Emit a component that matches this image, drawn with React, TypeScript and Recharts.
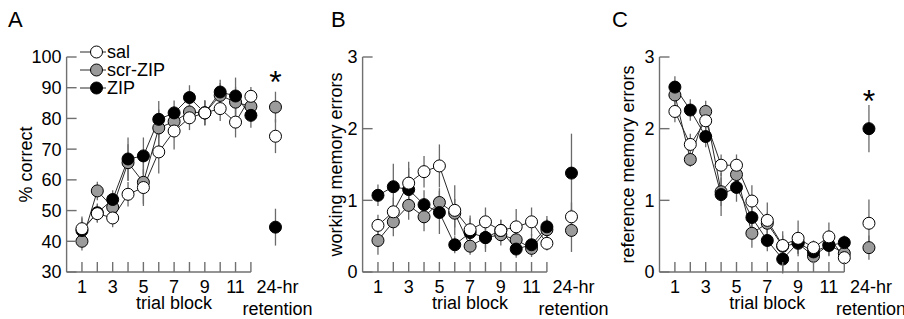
import { ComposedChart, Line, XAxis, YAxis, ErrorBar, ReferenceLine, ReferenceDot, Legend } from 'recharts'

const FONT = '"Liberation Sans", Arial, Helvetica, sans-serif'
const AXIS = '#707070'
const WHISKER = '#6a6a6a'
const LINK = '#2a2a2a'

const blocks = [1, 2, 3, 4, 5, 6, 7, 8, 9, 10, 11, 12]
const retentionX = 13.6
const xTicks = [...blocks, retentionX]
const labelledBlocks = [1, 3, 5, 7, 9, 11]

const groups = [
  { key: 'sal', name: 'sal', fill: '#ffffff' },
  { key: 'scr', name: 'scr-ZIP', fill: '#9b9b9b' },
  { key: 'zip', name: 'ZIP', fill: '#000000' },
]
// gray first, white on top
const drawOrder = ['scr', 'zip', 'sal']

// A: % correct (blocks 1-12, then 24-hr retention)
const correctSal = [44.1, 49.0, 47.6, 55.3, 57.5, 69.1, 75.9, 80.2, 81.8, 83.2, 78.8, 87.2, 74.2]
const correctSalErr = [4, 3, 3, 4, 6, 7, 6, 4, 4, 4, 5, 3, 5.5]
const correctScr = [40.0, 56.4, 51.1, 65.6, 59.2, 76.9, 79.0, 82.1, 81.8, 87.5, 85.3, 83.9, 83.7]
const correctScrErr = [3, 3, 3, 6, 7, 6, 5, 4, 4, 4, 5, 3, 5]
const correctZip = [43.5, 49.3, 53.6, 66.8, 67.8, 79.7, 81.8, 86.8, 81.8, 88.6, 87.3, 81.0, 44.6]
const correctZipErr = [4, 3, 3, 7, 6, 6, 4, 4, 4, 4, 6, 4, 6]

// B: working memory errors
const wmSal = [0.65, 0.84, 1.24, 1.4, 1.48, 0.86, 0.59, 0.7, 0.58, 0.63, 0.7, 0.4, 0.77]
const wmSalErr = [0.15, 0.2, 0.3, 0.22, 0.3, 0.35, 0.2, 0.2, 0.15, 0.25, 0.2, 0.1, 0.2]
const wmScr = [0.44, 0.7, 0.93, 0.77, 0.97, 0.82, 0.36, 0.48, 0.52, 0.45, 0.33, 0.59, 0.58]
const wmScrErr = [0.2, 0.2, 0.2, 0.2, 0.2, 0.2, 0.12, 0.15, 0.15, 0.15, 0.12, 0.15, 0.3]
const wmZip = [1.07, 1.19, 1.15, 0.94, 0.83, 0.38, 0.55, 0.48, 0.58, 0.32, 0.38, 0.63, 1.38]
const wmZipErr = [0.15, 0.32, 0.3, 0.2, 0.3, 0.12, 0.2, 0.2, 0.15, 0.12, 0.15, 0.15, 0.55]

// C: reference memory errors
const rmSal = [2.24, 1.78, 2.11, 1.49, 1.49, 0.99, 0.72, 0.37, 0.47, 0.34, 0.49, 0.2, 0.68]
const rmSalErr = [0.15, 0.15, 0.2, 0.15, 0.15, 0.22, 0.25, 0.2, 0.25, 0.1, 0.2, 0.1, 0.33]
const rmScr = [2.47, 1.57, 2.24, 1.12, 1.36, 0.54, 0.68, 0.36, 0.4, 0.22, 0.38, 0.26, 0.34]
const rmScrErr = [0.15, 0.1, 0.15, 0.2, 0.2, 0.2, 0.15, 0.15, 0.15, 0.1, 0.15, 0.1, 0.17]
const rmZip = [2.58, 2.26, 1.89, 1.08, 1.18, 0.76, 0.44, 0.18, 0.41, 0.28, 0.37, 0.41, 2.0]
const rmZipErr = [0.15, 0.15, 0.15, 0.3, 0.2, 0.2, 0.15, 0.2, 0.15, 0.1, 0.15, 0.1, 0.33]

type Row = Record<string, number>

function buildRows(
  sal: number[], salErr: number[],
  scr: number[], scrErr: number[],
  zip: number[], zipErr: number[],
): Row[] {
  const cols: [string, number[], number[]][] = [
    ['sal', sal, salErr],
    ['scr', scr, scrErr],
    ['zip', zip, zipErr],
  ]
  const rows: Row[] = blocks.map((b, i) => {
    const row: Row = { x: b }
    cols.forEach(([k, v, e]) => {
      row[k] = v[i]
      row[k + 'Err'] = e[i]
    })
    return row
  })
  const last: Row = { x: retentionX }
  cols.forEach(([k, v, e]) => {
    last[k + 'Ret'] = v[12]
    last[k + 'RetErr'] = e[12]
  })
  rows.push(last)
  return rows
}

const XTick = (props: any) => {
  const { x, y, payload } = props
  const v = payload.value
  const isRet = v === retentionX
  return (
    <g>
      {!isRet && <line x1={x} x2={x} y1={y} y2={y - 10} stroke={AXIS} strokeWidth={1.4} />}
      {(isRet || labelledBlocks.includes(v)) && (
        <text x={isRet ? x + 2 : x} y={y + 21} textAnchor="middle" fontSize={18} fill="#000" fontFamily={FONT}>
          {isRet ? '24-hr' : v}
        </text>
      )}
      {isRet && (
        <text x={x + 2} y={y + 43} textAnchor="middle" fontSize={18} fill="#000" fontFamily={FONT}>
          retention
        </text>
      )}
    </g>
  )
}

const YTick = (props: any) => {
  const { x, y, payload } = props
  return (
    <g>
      <line x1={x} x2={x + 10} y1={y} y2={y} stroke={AXIS} strokeWidth={1.4} />
      <text x={x - 5} y={y} dy="0.36em" textAnchor="end" fontSize={18} fill="#000" fontFamily={FONT}>
        {payload.value}
      </text>
    </g>
  )
}

const yTitle = (text: string, gap: number) => (props: any) => {
  const vb = props.viewBox
  const cx = vb.x + vb.width - gap
  const cy = vb.y + vb.height / 2
  return (
    <text
      x={cx}
      y={cy}
      dy="0.36em"
      transform={`rotate(-90 ${cx} ${cy})`}
      textAnchor="middle"
      fontSize={18}
      fill="#000"
      fontFamily={FONT}
    >
      {text}
    </text>
  )
}

const xTitle = (props: any) => {
  const vb = props.viewBox
  return (
    <text x={vb.x + (7 / 14.5) * vb.width} y={vb.y + 37} textAnchor="middle" fontSize={18} fill="#000" fontFamily={FONT}>
      trial block
    </text>
  )
}

const star = (props: any) => {
  const vb = props.viewBox
  return (
    <text x={vb.x + vb.width / 2} y={vb.y + vb.height / 2 + 19} textAnchor="middle" fontSize={32} fill="#000" fontFamily={FONT}>
      *
    </text>
  )
}

function LegendBox() {
  return (
    <svg width={100} height={56} style={{ display: 'block', overflow: 'visible' }}>
      {groups.map((g, i) => (
        <g key={g.key}>
          <line x1={2} x2={28} y1={9 + i * 18} y2={9 + i * 18} stroke={LINK} strokeWidth={1} />
          <circle cx={18.5} cy={9 + i * 18} r={6} fill={g.fill} stroke="#000" strokeWidth={1} />
          <text x={29} y={9 + i * 18} dy="0.36em" fontSize={18} fill="#000" fontFamily={FONT}>
            {g.name}
          </text>
        </g>
      ))}
    </svg>
  )
}

interface PanelProps {
  left: number
  width: number
  letter: string
  letterX: number
  rows: Row[]
  yDomain: [number, number]
  yTicks: number[]
  yLabel: string
  yLabelGap: number
  marginLeft: number
  marginRight: number
  starAt?: number
  legend?: boolean
}

function Panel(p: PanelProps) {
  const fillOf = (k: string) => groups.find((g) => g.key === k)!.fill
  return (
    <div style={{ position: 'absolute', left: p.left, top: 0, width: p.width, height: 319 }}>
      <div style={{ position: 'absolute', left: p.letterX, top: 9, fontSize: 22, lineHeight: '22px' }}>{p.letter}</div>
      <ComposedChart
        width={p.width}
        height={319}
        data={p.rows}
        margin={{ top: 57, right: p.marginRight, bottom: 0, left: p.marginLeft }}
      >
        <XAxis
          dataKey="x"
          type="number"
          domain={[0, 14.5]}
          ticks={xTicks}
          interval={0}
          tick={<XTick />}
          tickLine={false}
          axisLine={false}
          tickSize={0}
          tickMargin={0}
          height={47}
          allowDataOverflow
          label={xTitle}
        />
        <YAxis
          type="number"
          domain={p.yDomain}
          ticks={p.yTicks}
          interval={0}
          tick={<YTick />}
          tickLine={false}
          axisLine={{ stroke: AXIS, strokeWidth: 1.4 }}
          tickSize={0}
          tickMargin={0}
          width={50}
          allowDataOverflow
          label={yTitle(p.yLabel, p.yLabelGap)}
        />
        <ReferenceLine
          segment={[
            { x: 0, y: p.yDomain[0] },
            { x: 12, y: p.yDomain[0] },
          ]}
          stroke={AXIS}
          strokeWidth={1.4}
        />
        {drawOrder.map((k) => (
          <Line
            key={k}
            dataKey={k}
            name={groups.find((g) => g.key === k)!.name}
            stroke={LINK}
            strokeWidth={1}
            dot={{ r: 6, fill: fillOf(k), stroke: '#000', strokeWidth: 1 }}
            activeDot={false}
            isAnimationActive={false}
          >
            <ErrorBar dataKey={k + 'Err'} width={0} stroke={WHISKER} strokeWidth={1.3} direction="y" />
          </Line>
        ))}
        {drawOrder.map((k) => (
          <Line
            key={k + 'Ret'}
            dataKey={k + 'Ret'}
            legendType="none"
            stroke="none"
            dot={{ r: 6, fill: fillOf(k), stroke: '#000', strokeWidth: 1 }}
            activeDot={false}
            isAnimationActive={false}
          >
            <ErrorBar dataKey={k + 'RetErr'} width={0} stroke={WHISKER} strokeWidth={1.3} direction="y" />
          </Line>
        ))}
        {p.starAt !== undefined && (
          <ReferenceDot x={retentionX} y={p.starAt} r={0} fill="none" stroke="none" label={star} />
        )}
        {p.legend && (
          <Legend
            layout="vertical"
            align="center"
            verticalAlign="middle"
            wrapperStyle={{ position: 'absolute', top: 43, left: 78, width: 100, height: 56 }}
            content={() => <LegendBox />}
          />
        )}
      </ComposedChart>
    </div>
  )
}

export default function App() {
  const rowsA = buildRows(correctSal, correctSalErr, correctScr, correctScrErr, correctZip, correctZipErr)
  const rowsB = buildRows(wmSal, wmSalErr, wmScr, wmScrErr, wmZip, wmZipErr)
  const rowsC = buildRows(rmSal, rmSalErr, rmScr, rmScrErr, rmZip, rmZipErr)
  return (
    <div
      style={{
        position: 'absolute',
        left: 0,
        top: 0,
        width: 904,
        height: 319,
        background: '#fff',
        fontFamily: FONT,
        overflow: 'hidden',
      }}
    >
      <style>{'.recharts-surface { overflow: visible; }'}</style>
      <Panel
        left={0}
        width={300}
        letter="A"
        letterX={8}
        rows={rowsA}
        yDomain={[30, 100]}
        yTicks={[30, 40, 50, 60, 70, 80, 90, 100]}
        yLabel="% correct"
        yLabelGap={41}
        marginLeft={16.6}
        marginRight={10.7}
        starAt={94.5}
        legend
      />
      <Panel
        left={300}
        width={300}
        letter="B"
        letterX={31}
        rows={rowsB}
        yDomain={[0, 3]}
        yTicks={[0, 1, 2, 3]}
        yLabel="working memory errors"
        yLabelGap={27}
        marginLeft={12.6}
        marginRight={14.7}
      />
      <Panel
        left={600}
        width={304}
        letter="C"
        letterX={12}
        rows={rowsC}
        yDomain={[0, 3]}
        yTicks={[0, 1, 2, 3]}
        yLabel="reference memory errors"
        yLabelGap={32}
        marginLeft={9.5}
        marginRight={21.2}
        starAt={2.5}
      />
    </div>
  )
}
